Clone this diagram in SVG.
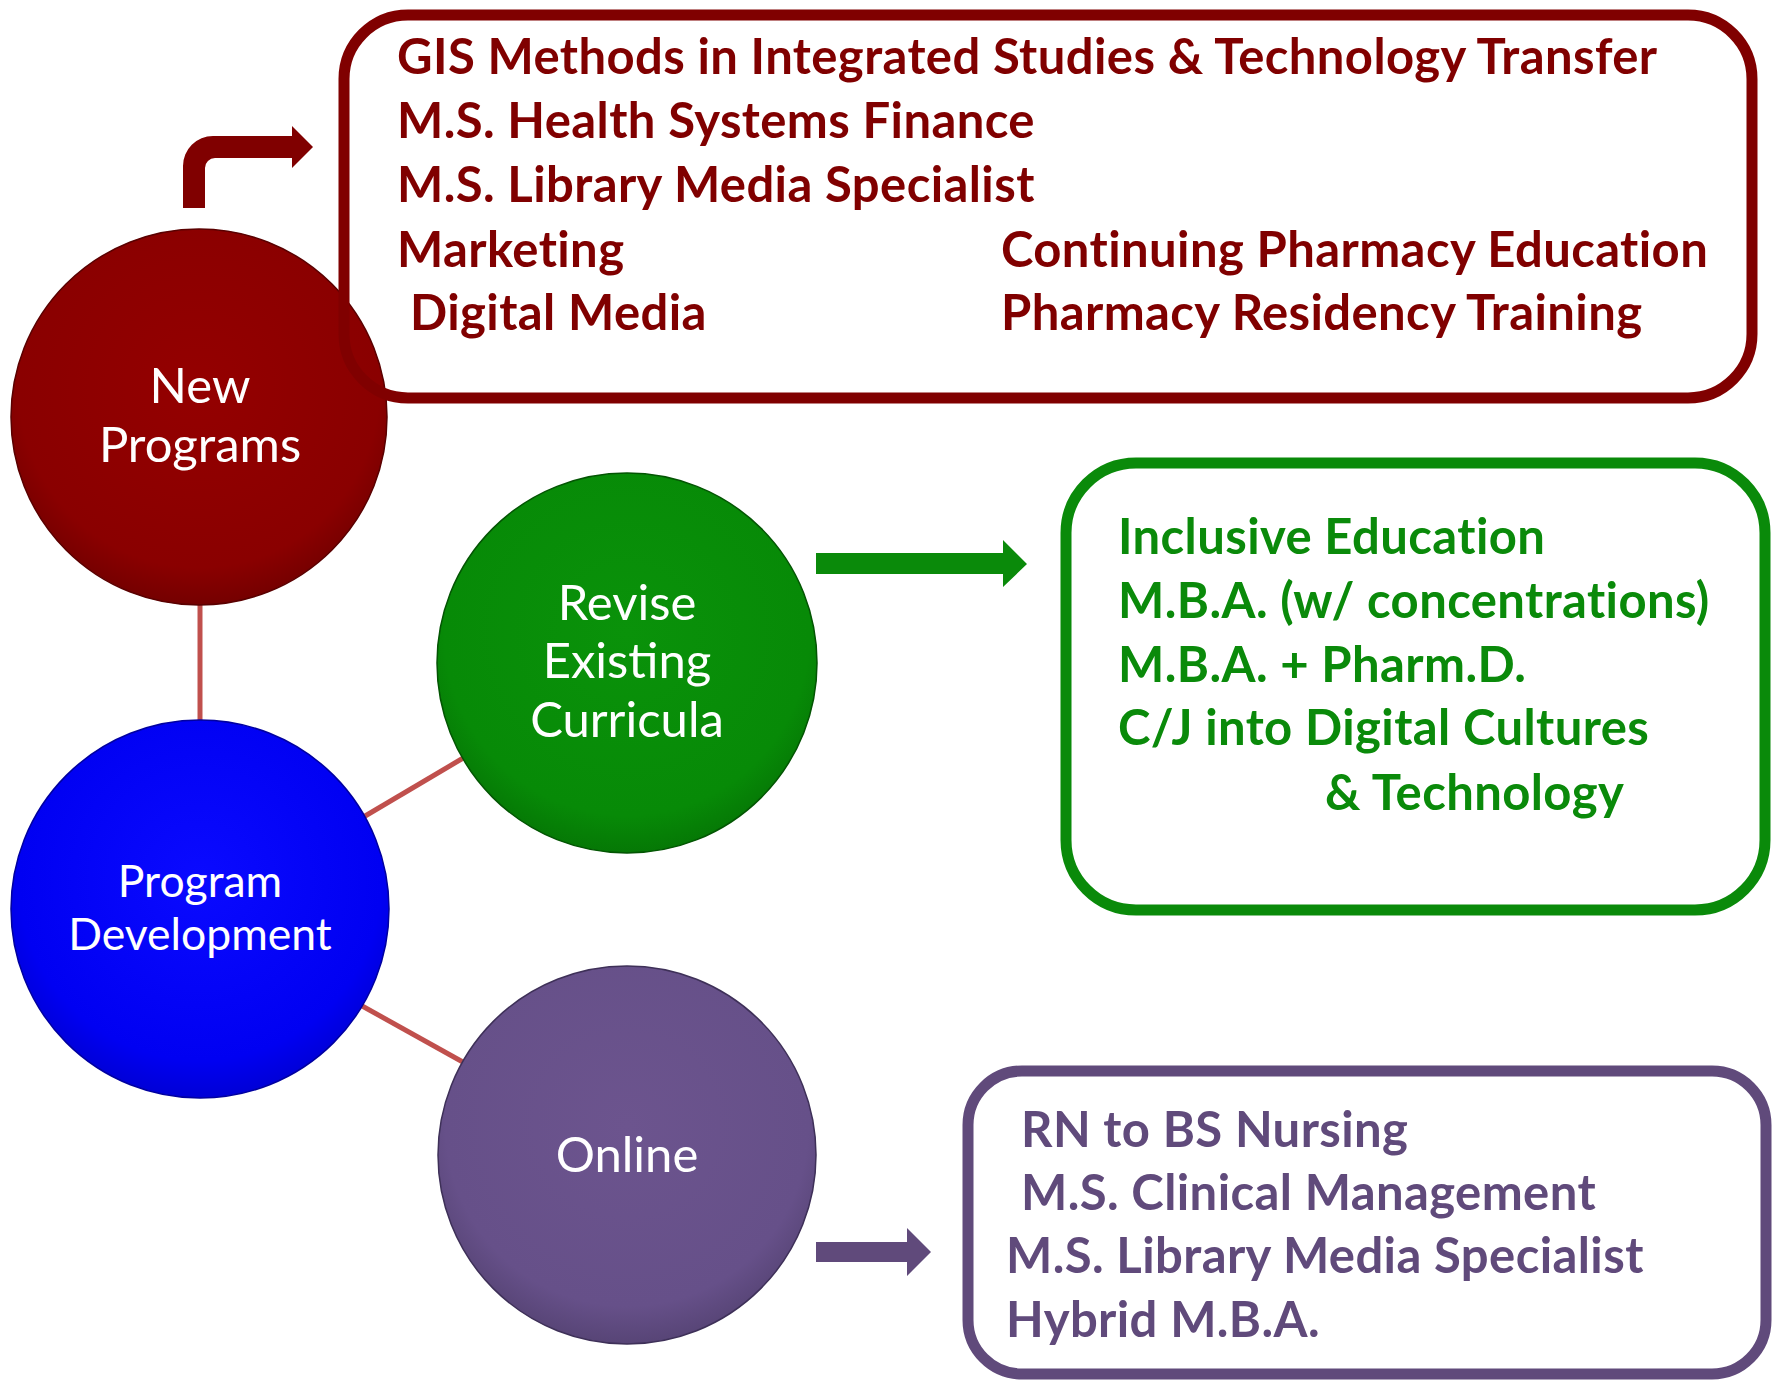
<svg xmlns="http://www.w3.org/2000/svg" width="1775" height="1381" viewBox="0 0 1775 1381">
<style>
.bg{fill:#ffffff}
.link{stroke:#c0504d;stroke-width:5;fill:none}
.circ-label{font-family:Lato,"Open Sans","Liberation Sans",sans-serif;font-size:49px;fill:#ffffff;text-anchor:middle}
.blue-label{font-size:44.5px}
.box-text{font-family:Lato,"Open Sans","Liberation Sans",sans-serif;font-weight:bold;font-size:49px;letter-spacing:0.4px}
.red-t{fill:#800000}
.green-t{fill:#0a8a0a}
.purple-t{fill:#604a7b}
.box{fill:none;stroke-width:11}
</style>
<defs>
<radialGradient id="gRed" cx="0.5" cy="0.42" r="0.6">
<stop offset="0" stop-color="#940000"/><stop offset="0.8" stop-color="#8a0000"/><stop offset="1" stop-color="#700000"/>
</radialGradient>
<radialGradient id="gBlue" cx="0.5" cy="0.42" r="0.6">
<stop offset="0" stop-color="#0a0aff"/><stop offset="0.8" stop-color="#0000f2"/><stop offset="1" stop-color="#0000d0"/>
</radialGradient>
<radialGradient id="gGreen" cx="0.5" cy="0.42" r="0.6">
<stop offset="0" stop-color="#0a920a"/><stop offset="0.8" stop-color="#078a07"/><stop offset="1" stop-color="#057405"/>
</radialGradient>
<radialGradient id="gPurple" cx="0.5" cy="0.42" r="0.6">
<stop offset="0" stop-color="#6c548e"/><stop offset="0.8" stop-color="#665089"/><stop offset="1" stop-color="#544272"/>
</radialGradient>
</defs>
<rect class="bg" x="0" y="0" width="1775" height="1381"/>
<g id="connectors">
<line class="link" x1="200" y1="600" x2="200" y2="725"/>
<line class="link" x1="355" y1="822" x2="470" y2="754"/>
<line class="link" x1="355" y1="1002" x2="470" y2="1066"/>
</g>
<g id="node-new-programs">
<circle cx="199" cy="417" r="188" fill="url(#gRed)" stroke="#5a0000" stroke-width="1.5"/>
<text class="circ-label" x="200" y="403">New</text>
<text class="circ-label" x="200" y="462">Programs</text>
</g>
<g id="node-program-development">
<circle cx="200" cy="909" r="189" fill="url(#gBlue)" stroke="#0000a0" stroke-width="1.5"/>
<text class="circ-label blue-label" x="200" y="897">Program</text>
<text class="circ-label blue-label" x="200" y="950">Development</text>
</g>
<g id="node-revise-existing-curricula">
<circle cx="627" cy="663" r="190" fill="url(#gGreen)" stroke="#035503" stroke-width="1.5"/>
<text class="circ-label" x="627" y="620">Revise</text>
<text class="circ-label" x="627" y="678">Existing</text>
<text class="circ-label" x="627" y="737">Curricula</text>
</g>
<g id="node-online">
<circle cx="627" cy="1155" r="189" fill="url(#gPurple)" stroke="#3e3058" stroke-width="1.5"/>
<text class="circ-label" x="627" y="1172">Online</text>
</g>
<g id="node-new-programs-list">
<rect class="box" x="344" y="15" width="1408" height="383" rx="64" ry="64" stroke="#800000"/>
<text class="box-text red-t" x="397" y="74">GIS Methods in Integrated Studies &amp; Technology Transfer</text>
<text class="box-text red-t" x="397" y="138">M.S. Health Systems Finance</text>
<text class="box-text red-t" x="397" y="202">M.S. Library Media Specialist</text>
<text class="box-text red-t" x="397" y="267">Marketing</text>
<text class="box-text red-t" x="410" y="330">Digital Media</text>
<text class="box-text red-t" x="1001" y="267">Continuing Pharmacy Education</text>
<text class="box-text red-t" x="1001" y="330">Pharmacy Residency Training</text>
</g>
<g id="node-revise-list">
<rect class="box" x="1066" y="463" width="699" height="447" rx="70" ry="70" stroke="#0a8a0a"/>
<text class="box-text green-t" x="1118" y="554">Inclusive Education</text>
<text class="box-text green-t" x="1118" y="618">M.B.A. (w/ concentrations)</text>
<text class="box-text green-t" x="1118" y="682">M.B.A. + Pharm.D.</text>
<text class="box-text green-t" x="1118" y="745">C/J into Digital Cultures</text>
<text class="box-text green-t" x="1325" y="810">&amp; Technology</text>
</g>
<g id="node-online-list">
<rect class="box" x="968" y="1071" width="798" height="303" rx="54" ry="54" stroke="#604a7b"/>
<text class="box-text purple-t" x="1021" y="1147">RN to BS Nursing</text>
<text class="box-text purple-t" x="1021" y="1210">M.S. Clinical Management</text>
<text class="box-text purple-t" x="1006" y="1273">M.S. Library Media Specialist</text>
<text class="box-text purple-t" x="1006" y="1337">Hybrid M.B.A.</text>
</g>
<g id="arrows">
<path d="M183,208 L183,166 A30,30 0 0 1 213,136 L292,136 L292,126 L313,147 L292,168 L292,158 L215,158 A10,10 0 0 0 205,168 L205,208 Z" fill="#800000"/>
<path d="M816,553 L1003,553 L1003,540 L1027,564 L1003,587 L1003,574 L816,574 Z" fill="#0a8a0a"/>
<path d="M816,1242 L907,1242 L907,1228 L931,1252 L907,1276 L907,1262 L816,1262 Z" fill="#604a7b"/>
</g>
</svg>
